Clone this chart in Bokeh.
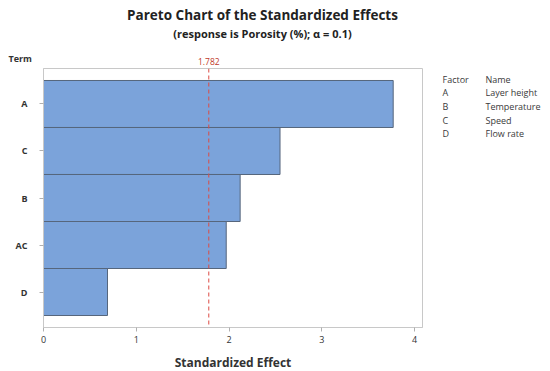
from bokeh.plotting import figure
from bokeh.models import FactorRange, Range1d, Span, ColumnDataSource
from bokeh.layouts import column, row
from bokeh.core.properties import value
from bokeh.embed import file_html
from bokeh.resources import INLINE

terms = ["A", "C", "B", "AC", "D"]
effects = [3.77, 2.55, 2.12, 1.97, 0.69]
critical = 1.782
x_ticks = [0, 1, 2, 3, 4]
factor_codes = ["A", "B", "C", "D"]
factor_names = ["Layer height", "Temperature", "Speed", "Flow rate"]

FONT = "Open Sans"
TXT = "#333333"

# layout geometry (pixels)
W, HEAD_H = 550, 66
FL, FT, FW, FH = 43, 68, 379, 259
X_END = 4.086
K = FW / X_END          # pixels per unit of the main x scale
P_W = FL + FW + 8
P_H = (FT - HEAD_H) + FH + 40
SIDE_W = W - P_W

src = ColumnDataSource(dict(term=terms, effect=effects))

p = figure(
    y_range=FactorRange(*terms[::-1], range_padding=0.255, range_padding_units="absolute"),
    x_range=Range1d(0, X_END),
    frame_width=FW, frame_height=FH,
    min_border_left=FL, min_border_right=8, min_border_top=FT - HEAD_H, min_border_bottom=40,
    output_backend="svg", toolbar_location=None,
    background_fill_color="white", border_fill_color="white",
)
p.outline_line_color = "#c8c8c8"
p.xgrid.visible = False
p.ygrid.visible = False

p.hbar(y="term", right="effect", left=0, height=1.0, source=src,
       fill_color="#7ba3da", line_color="#56667c", line_width=1)

p.add_layout(Span(location=critical, dimension="height", line_color="#dc4a44",
                  line_dash="4 3", line_width=1))

p.xaxis.ticker = x_ticks
p.xaxis.axis_label = "Standardized Effect"
p.xaxis.axis_label_text_font = FONT
p.xaxis.axis_label_text_font_style = "bold"
p.xaxis.axis_label_text_font_size = "12px"
p.xaxis.axis_label_text_color = TXT
p.xaxis.axis_label_standoff = 8
for ax in (p.xaxis, p.yaxis):
    ax.axis_line_color = "#c8c8c8"
    ax.major_tick_line_color = "#b0b0b0"
    ax.minor_tick_line_color = None
    ax.major_tick_in = 0
    ax.major_tick_out = 4
    ax.major_label_text_font = FONT
    ax.major_label_text_font_size = "9px"
    ax.major_label_text_color = TXT
p.xaxis.major_label_standoff = 4
p.yaxis.major_label_standoff = 12
p.yaxis.major_label_text_font_style = "bold"


def blank(fig):
    fig.axis.visible = False
    fig.grid.visible = False
    fig.outline_line_color = None
    return fig


# header: title, subtitle, "Term" and the critical-value label (same x scale as the chart)
head = blank(figure(
    width=W, height=HEAD_H,
    x_range=Range1d(-FL / K, (W - FL) / K), y_range=Range1d(HEAD_H, 0),
    min_border=0, output_backend="svg", toolbar_location=None,
    background_fill_color="white", border_fill_color="white",
))


def htext(fig, x, y, t, size, style="normal", align="left", color=TXT):
    fig.text(x=[x], y=[y], text=[t], text_font=value(FONT), text_font_size=value(size),
             text_font_style=style, text_align=align, text_baseline="middle",
             text_color=color)


def px(xpix):
    return (xpix - FL) / K


htext(head, px(262), 14, "Pareto Chart of the Standardized Effects", "13.5px", "bold", "center", "#222222")
htext(head, px(262), 33, "(response is Porosity (%); \u03b1 = 0.1)", "11px", "bold", "center", "#222222")
htext(head, px(8), 58, "Term", "9px", "bold")
htext(head, critical, 60.5, "1.782", "8.5px", "normal", "center", "#c0392b")

# right side: factor / name table (its frame lines up with the chart frame: page pixels)
side = blank(figure(
    width=SIDE_W, height=P_H,
    x_range=Range1d(P_W, W), y_range=Range1d(FT + FH, FT),
    min_border=0, output_backend="svg", toolbar_location=None,
    background_fill_color="white", border_fill_color="white",
))
htext(side, 442, 79, "Factor", "9px", color="#3a3a3a")
htext(side, 485, 79, "Name", "9px", color="#3a3a3a")
for i, (c, n) in enumerate(zip(factor_codes, factor_names)):
    htext(side, 442, 93 + 14 * i, c, "9px", color="#3a3a3a")
    htext(side, 485, 93 + 14 * i, n, "9px", color="#3a3a3a")

layout = column(head, row(p, side))
open("out.html", "w").write(file_html(layout, INLINE))
